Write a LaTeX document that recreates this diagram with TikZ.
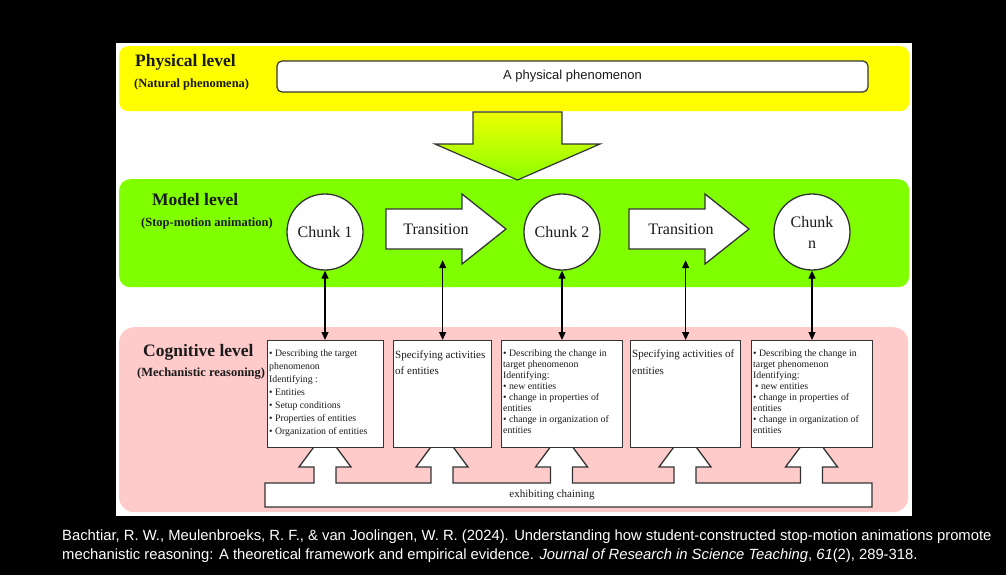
\documentclass[tikz,border=0pt]{standalone}
\usepackage{fontspec}
\setmainfont{Liberation Serif}
\newfontfamily\arialfont{Liberation Sans}
\usetikzlibrary{arrows.meta,calc}

\definecolor{physyellow}{HTML}{FFFF00}
\definecolor{modelgreen}{HTML}{80FF00}
\definecolor{cogpink}{HTML}{FFCACA}
\definecolor{edge}{HTML}{333333}
\definecolor{ink}{HTML}{1A1A1A}

\tikzset{
  band/.style={draw=none, anchor=north west, inner sep=0pt},
  title/.style={font=\bfseries\fontsize{17.5}{20}\selectfont, text=ink, anchor=west, inner sep=0pt},
  subtitle/.style={font=\bfseries\fontsize{12.5}{15}\selectfont, text=ink, anchor=west, inner sep=0pt},
  chunk/.style={circle, draw=edge, line width=1.3pt, fill=white, minimum size=76pt,
    inner sep=0pt, font=\fontsize{16}{21}\selectfont, align=center, text=ink},
  transbox/.style={inner sep=0pt, minimum width=120pt, minimum height=70pt},
  tarrow/.style={draw=edge, line width=1.3pt, fill=white, line join=miter},
  translabel/.style={font=\fontsize{16}{19}\selectfont, text=ink, inner sep=0pt},
  cogbox/.style={draw=edge, line width=1.3pt, fill=white, anchor=north west, inner sep=0pt, minimum height=107pt},
  boxtext/.style={anchor=north west, inner sep=0pt, align=left, text=ink},
  link/.style={draw=black, line width=1.2pt,
    {Triangle[length=8pt,width=7pt]}-{Triangle[length=8pt,width=7pt]}},
}

\begin{document}
\begin{tikzpicture}[x=1pt,y=-1pt]
\useasboundingbox[fill=black] (0,0) rectangle (1006,575);

% white sheet
\node[fill=white, anchor=north west, inner sep=0pt, minimum width=796pt, minimum height=473pt] (sheet) at (116,43) {};

% the three level bands
\node[band, fill=physyellow, rounded corners=9pt, minimum width=790pt, minimum height=65pt] (phys) at (119,46) {};
\node[band, fill=modelgreen, rounded corners=11pt, minimum width=790pt, minimum height=108pt] (model) at (119,179) {};
\node[band, fill=cogpink, rounded corners=15pt, minimum width=789pt, minimum height=185pt] (cog) at (119,327) {};

% level titles
\node[title] (physT) at (135,62) {Physical level};
\node[subtitle] (physS) at (134,84) {(Natural phenomena)};
\node[title] (modelT) at (152,200) {Model level};
\node[subtitle] (modelS) at (141,223) {(Stop-motion animation)};
\node[title] (cogT) at (143,352) {Cognitive level};
\node[subtitle] (cogS) at (137,374) {(Mechanistic reasoning)};

% physical phenomenon
\node[draw=edge, line width=1.2pt, rounded corners=5pt, fill=white, minimum width=591pt,
  minimum height=31pt, inner sep=0pt, font=\arialfont\fontsize{13}{15}\selectfont, text=ink]
  (phen) at (572.5,76.5) {A physical phenomenon};

% big arrow from the physical to the model level
\path[draw=edge, line width=1.2pt, line join=miter,
  top color=physyellow!85!modelgreen, bottom color=modelgreen!90!physyellow]
  (473,112) -- (562,112) -- (562,144) -- (600,144) -- (517.5,180) -- (435,144) -- (473,144) -- cycle;

% chunks
\node[chunk] (c1) at (325,232) {Chunk 1};
\node[chunk] (c2) at (562,232) {Chunk 2};
\node[chunk] (cn) at (812,232) {Chunk\\n};

% transitions
\node[transbox] (t1) at (446,229) {};
\node[transbox] (t2) at (689,229) {};
\foreach \t in {t1,t2}{
  \draw[tarrow] ([shift={(-60,-20)}]\t.center) -- ([shift={(16,-20)}]\t.center)
    -- ([shift={(16,-35)}]\t.center) -- ([shift={(60,0)}]\t.center)
    -- ([shift={(16,35)}]\t.center) -- ([shift={(16,20)}]\t.center)
    -- ([shift={(-60,20)}]\t.center) -- cycle;
}
\node[translabel] (t1l) at ([xshift=-10pt]t1.center) {Transition};
\node[translabel] (t2l) at ([xshift=-8pt]t2.center) {Transition};

% chaining bar with the upward arrows into the boxes
\path[draw=edge, line width=1.3pt, fill=white, line join=miter]
  (265,507) -- (265,483)
  \foreach \c in {325,442,561.5,685,811.5}{
    -- (\c-11,483) -- (\c-11,467) -- (\c-26,467) -- (\c,432)
    -- (\c+26,467) -- (\c+11,467) -- (\c+11,483)
  }
  -- (872,483) -- (872,507) -- cycle;
\node[font=\fontsize{11}{13}\selectfont, text=ink, inner sep=0pt] (chain) at (552,495) {exhibiting chaining};

% cognitive boxes
\node[cogbox, minimum width=116pt] (b1) at (267,340) {};
\node[cogbox, minimum width=98pt]  (b2) at (393,340) {};
\node[cogbox, minimum width=121pt] (b3) at (501,340) {};
\node[cogbox, minimum width=110pt] (b4) at (630,340) {};
\node[cogbox, minimum width=121pt] (b5) at (751,340) {};

\node[boxtext, font=\fontsize{9.8}{13}\selectfont] (b1t) at ([shift={(2,9)}]b1.north west)
  {• Describing the target\\phenomenon\\Identifying :\\• Entities\\• Setup conditions\\
   • Properties of entities\\• Organization of entities};
\node[boxtext, font=\fontsize{11}{16}\selectfont] (b2t) at ([shift={(2,11)}]b2.north west)
  {Specifying activities\\of entities};
\node[boxtext, font=\fontsize{9.8}{11}\selectfont] (b3t) at ([shift={(2,9)}]b3.north west)
  {• Describing the change in\\target phenomenon\\Identifying:\\• new entities\\
   • change in properties of\\entities\\• change in organization of\\entities};
\node[boxtext, font=\fontsize{11}{17}\selectfont] (b4t) at ([shift={(2,10)}]b4.north west)
  {Specifying activities of\\entities};
\node[boxtext, font=\fontsize{9.8}{11}\selectfont] (b5t) at ([shift={(2,9)}]b5.north west)
  {• Describing the change in\\target phenomenon\\Identifying:\\\hspace{2pt}• new entities\\
   • change in properties of\\entities\\• change in organization of\\entities};

% links between the model and cognitive levels
\draw[link] (c1.south) -- (c1.south |- b1.north);
\draw[link, shorten <=-4pt] (t1.south -| b2.north) -- (b2.north);
\draw[link] (c2.south) -- (c2.south |- b3.north);
\draw[link, shorten <=-4pt] (t2.south -| b4.north) -- (b4.north);
\draw[link] (cn.south) -- (cn.south |- b5.north);

% reference
\node[anchor=north west, inner sep=0pt, align=left, text=white,
  font=\arialfont\fontsize{14.8}{19}\selectfont] (cite) at (62,530)
  {Bachtiar, R. W., Meulenbroeks, R. F., \& van Joolingen, W. R. (2024). Understanding how student-constructed stop-motion animations promote\\
   mechanistic reasoning: A theoretical framework and empirical evidence. \textit{Journal of Research in Science Teaching}, \textit{61}(2), 289-318.};
\end{tikzpicture}
\end{document}
